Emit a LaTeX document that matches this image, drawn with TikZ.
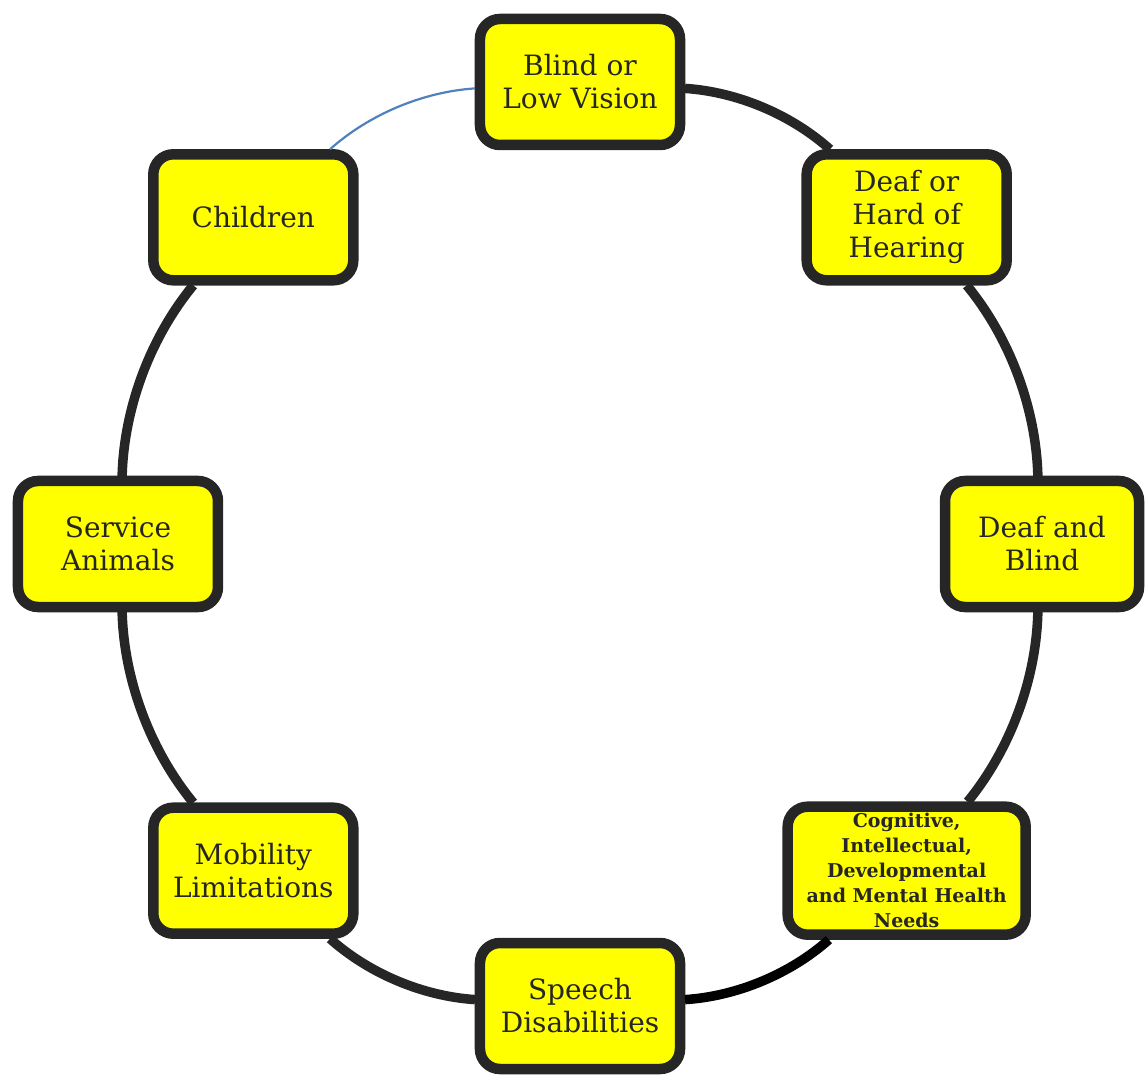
\documentclass[tikz,border=0pt]{standalone}
\usepackage{fontspec}
\setmainfont{DejaVu Serif}
\usetikzlibrary{positioning}
\definecolor{boxline}{HTML}{262626}
\definecolor{boxfill}{HTML}{FFFF00}
\definecolor{linkblue}{HTML}{4F81BD}
\tikzset{
  topic/.style={draw=boxline, line width=10.5pt, fill=boxfill, rounded corners=20pt,
    minimum width=200pt, minimum height=126pt, inner sep=0pt, outer sep=5pt,
    align=center, font=\fontsize{28}{33}\selectfont, text=boxline},
  ring/.style={draw=boxline, line width=9.5pt, bend left=19, looseness=0.85}
}

\begin{document}
\begin{tikzpicture}
  \useasboundingbox (-580pt,-532pt) rectangle (566pt,544pt);

  \node[topic] (blind)    at (90:462pt)   {Blind or\\Low Vision};
  \node[topic] (deafhard) at (45:462pt)   {Deaf or\\Hard of\\Hearing};
  \node[topic, minimum width=194pt] (deafblind) at (0:462pt) {Deaf and\\Blind};
  \node[topic, minimum width=238pt, minimum height=128pt,
        font=\bfseries\fontsize{19}{25}\selectfont] (cognitive) at (-45:462pt)
        {Cognitive,\\Intellectual,\\Developmental\\and Mental Health\\Needs};
  \node[topic] (speech)   at (-90:462pt)  {Speech\\Disabilities};
  \node[topic] (mobility) at (-135:462pt) {Mobility\\Limitations};
  \node[topic] (service)  at (180:462pt)  {Service\\Animals};
  \node[topic] (children) at (135:462pt)  {Children};

  % ring round the topics
  \draw[ring] (blind) to (deafhard);
  \draw[ring] (deafhard) to (deafblind);
  \draw[ring] (deafblind) to (cognitive);
  \draw[ring, draw=black] (cognitive) to (speech);
  \draw[ring] (speech) to (mobility);
  \draw[ring] (mobility) to (service);
  \draw[ring] (service) to (children);
  \draw[ring, draw=linkblue, line width=2.2pt] (children) to (blind);
\end{tikzpicture}
\end{document}
